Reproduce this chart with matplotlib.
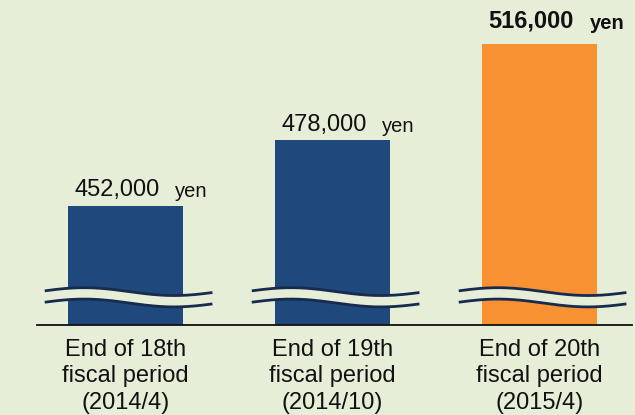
import numpy as np
import matplotlib
matplotlib.use("Agg")
import matplotlib.pyplot as plt

# values in thousands of yen
periods = ["End of 18th\nfiscal period\n(2014/4)",
           "End of 19th\nfiscal period\n(2014/10)",
           "End of 20th\nfiscal period\n(2015/4)"]
values = [452, 478, 516]
value_labels = ["452,000", "478,000", "516,000"]
highlight = 2

bg = "#e6eed8"
navy = "#1f497d"
orange = "#f79132"
wave_col = "#172b4d"

plt.rcParams["font.family"] = ["Liberation Sans", "DejaVu Sans"]

fig = plt.figure(figsize=(6.35, 4.15), dpi=100, facecolor=bg)
# axes from x=37px to 632px, top of figure down to baseline at 325px
ax = fig.add_axes([37 / 635, (415 - 325) / 415, 595 / 635, 325 / 415])
ax.set_facecolor(bg)

x = np.arange(len(values))
colors = [orange if i == highlight else navy for i in x]
ax.bar(x, values, width=0.556, color=colors, zorder=2)

ax.set_xlim(-0.4275, 2.447)
ax.set_ylim(405, 533.5)

for s in ["top", "left", "right"]:
    ax.spines[s].set_visible(False)
ax.spines["bottom"].set_linewidth(1.3)
ax.spines["bottom"].set_color("#111111")
ax.set_yticks([])
ax.set_xticks(x)
ax.set_xticklabels(periods, fontsize=17, linespacing=1.27, color="#111111")
ax.tick_params(axis="x", length=0, pad=10)

# break marks (wavy lines) across each bar
t = np.linspace(-0.39, 0.42, 200)
for i in x:
    up = 418.2 + 1.55 * np.cos(2 * np.pi * (t + 0.2) / 0.87)
    lo = up - 4.5
    ax.fill_between(i + t, lo, up, color=bg, lw=0, zorder=3)
    ax.plot(i + t, up, color=wave_col, lw=2.0, zorder=4, solid_capstyle="butt")
    ax.plot(i + t, lo, color=wave_col, lw=2.0, zorder=4, solid_capstyle="butt")

# value labels
for i, (v, lab) in enumerate(zip(values, value_labels)):
    weight = "bold" if i == highlight else "normal"
    dy = 12 if i == highlight else 7
    num = ax.annotate(lab, xy=(i, v), xytext=(-37, dy), textcoords="offset points",
                      ha="left", va="baseline", fontsize=17, fontweight=weight,
                      color="#111111", zorder=5)
    ax.annotate("yen", xy=(1, 0), xycoords=num, xytext=(11.5, 0),
                textcoords="offset points", ha="left", va="bottom",
                fontsize=14.5, fontweight=weight, color="#111111", zorder=5)

fig.savefig("out.png", dpi=100, facecolor=bg)
